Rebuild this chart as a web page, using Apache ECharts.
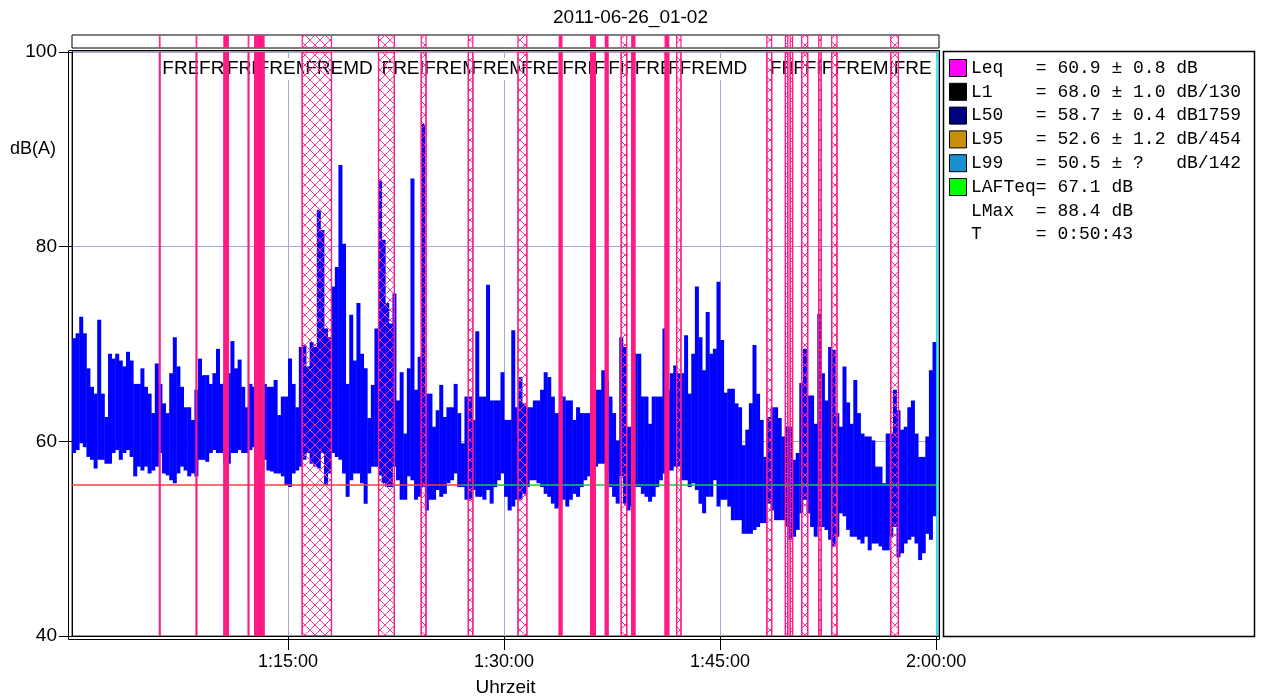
<!DOCTYPE html>
<html>
<head>
<meta charset="utf-8">
<script src="https://cdn.jsdelivr.net/npm/echarts@6/dist/echarts.min.js"></script>
<style>
html,body{margin:0;padding:0;background:#fff}
#main{width:1261px;height:698px}
</style>
</head>
<body>
<div id="main"></div>
<script>
// Pegelschrieb 2011-06-26 01-02, Spalten a 15 s (Zeit in s seit 0:00)
var LEVEL_START = 3600;
var LEVEL_STEP = 15;
var levelHigh = [
  70.6,71.1,72.8,71.1,67.5,65.6,64.9,72.5,64.9,62.5, 69.0,68.5,69.0,68.3,67.7,69.2,68.3,65.9,65.9,67.5,
  65.6,64.9,62.9,68.0,65.9,63.9,62.9,67.0,70.7,67.7, 65.6,63.5,63.5,62.2,65.3,68.5,66.8,66.8,65.9,67.0,
  69.5,65.9,65.6,67.0,70.3,67.5,68.4,65.6,63.5,65.9, 65.6,65.3,64.9,65.9,65.6,65.6,66.3,62.7,64.6,64.6,
  68.5,65.9,63.5,69.7,69.9,67.7,70.2,69.7,83.8,81.7, 71.6,70.7,75.9,77.9,88.4,80.3,65.9,73.0,68.3,74.2,
  69.0,67.5,62.4,65.8,71.6,86.8,80.7,74.2,72.1,75.2, 64.2,67.1,60.8,67.5,87.0,65.3,68.7,92.6,64.9,64.9,
  61.5,63.2,65.8,62.5,63.5,63.5,65.9,62.9,59.8,64.6, 64.6,62.2,71.3,64.6,64.6,76.1,64.2,64.2,64.2,67.1,
  62.2,62.2,71.4,63.5,66.6,63.9,63.5,63.5,64.2,64.2, 65.3,67.1,66.6,64.6,62.9,62.9,64.6,64.2,64.2,62.2,
  63.5,62.9,62.9,62.9,64.2,65.3,65.3,67.3,66.3,64.6, 62.9,60.1,70.7,69.7,61.5,61.5,69.0,69.0,64.6,64.6,
  61.8,64.6,64.6,64.6,71.6,65.3,67.0,67.8,67.0,67.0, 70.9,64.9,69.0,75.9,70.7,67.3,73.3,69.0,69.5,76.4,
  70.4,65.0,65.4,65.4,63.9,63.5,59.6,61.2,63.9,69.9, 64.9,62.2,58.4,62.5,63.5,63.5,62.4,60.5,61.5,61.5,
  58.1,58.8,66.0,69.5,64.7,64.7,61.8,73.1,67.0,64.2, 69.7,69.4,62.9,61.5,67.7,64.0,61.8,66.3,62.9,60.8,
  60.5,60.5,60.1,57.4,57.4,55.7,60.8,60.8,65.3,63.2, 61.2,61.5,63.5,64.2,60.8,58.4,58.4,60.5,67.3,70.2
];
var levelLow = [
  58.8,59.1,59.8,59.4,58.4,58.1,57.2,58.1,58.1,57.7, 57.7,58.8,59.1,58.1,58.8,59.1,58.4,56.4,57.4,57.0,
  57.4,56.7,57.0,57.4,58.8,56.7,56.5,56.0,55.7,56.7, 57.4,57.0,56.4,56.7,56.4,58.1,58.1,57.9,58.8,59.1,
  58.8,58.8,57.7,57.7,58.8,58.8,59.1,58.8,58.8,59.1, 59.4,58.8,58.1,58.1,57.0,56.9,56.7,56.7,56.4,55.5,
  55.3,56.7,57.0,57.4,58.1,58.8,57.7,57.4,57.2,58.8, 55.5,56.7,58.8,58.4,58.1,56.7,54.3,56.0,56.7,56.7,
  55.7,53.6,56.7,57.4,57.4,56.5,55.7,55.3,55.3,57.4, 56.0,54.0,54.0,56.4,56.0,54.0,54.3,55.3,52.9,54.0,
  54.0,55.0,54.3,54.6,55.7,56.0,56.7,55.3,55.3,54.0, 54.0,55.0,54.3,54.3,54.0,55.0,53.6,55.3,56.0,56.7,
  54.3,52.9,53.3,54.0,54.0,54.6,55.3,56.0,56.0,55.7, 55.3,54.6,54.3,53.6,53.1,53.3,54.0,53.3,54.0,54.6,
  54.3,55.3,56.0,56.4,57.4,57.4,57.7,57.7,56.7,55.3, 54.3,53.6,56.4,53.6,52.9,53.3,55.3,55.3,54.6,54.3,
  53.8,54.3,55.3,56.0,56.7,57.0,57.0,57.4,57.4,56.0, 56.0,55.3,55.7,55.0,53.6,52.6,54.3,54.3,56.0,53.3,
  54.0,54.0,53.3,51.9,51.9,51.9,50.5,50.5,50.5,50.9, 51.2,51.6,51.6,53.6,52.9,51.9,51.9,51.9,51.2,49.9,
  50.2,50.9,52.6,54.0,52.6,51.2,50.2,51.2,51.2,50.9, 49.9,49.2,50.2,52.6,52.3,50.9,50.2,50.2,49.9,49.5,
  50.2,48.8,49.5,49.5,49.2,48.8,48.8,50.2,51.2,48.1, 48.5,49.5,49.9,50.2,49.5,47.8,48.5,50.5,49.9,52.3
];

// Markierungen (Fremdgeraeusch): Beginn, Ende, Art (l = Linie, s = voll, h = schraffiert)
var markStart = [3964,4117,4233,4334,4361,4559,4877,5055,5251,5458,5630,5761,5822,5888,5932,6071,6119,6495,6572,6592,6640,6711,6765,7011];
var markEnd   = [3967,4120,4251,4337,4400,4681,4943,5075,5270,5495,5641,5780,5833,5911,5945,6086,6137,6515,6582,6602,6665,6721,6787,7043];
var markKind  = ['l','l','s','l','s','h','h','h','h','h','s','s','s','h','s','s','h','h','h','h','h','h','h','h'];
var markText = 'FREMD';

var tickTimes = [4500, 5400, 6300, 7200];
var refLevel = 55.5;
var refSwitch = 5220;
var dataEnd = 7203;
var axisMin = 3600, axisMax = 7212;

var legendColors = ['#ff00ff', '#000000', '#000080', '#c8900a', '#1a90d0', '#00ff00'];
var legendRows = [
  'Leq   = 60.9 ± 0.8 dB',
  'L1    = 68.0 ± 1.0 dB/130',
  'L50   = 58.7 ± 0.4 dB1759',
  'L95   = 52.6 ± 1.2 dB/454',
  'L99   = 50.5 ± ?   dB/142',
  'LAFTeq= 67.1 dB',
  'LMax  = 88.4 dB',
  'T     = 0:50:43'
];

var PINK = '#ff1a85';
var HATCH = '#ff3399';
var SANS = '"Liberation Sans", Arial, sans-serif';
var CLEAR = 'rgba(0,0,0,0)';

function pad(n) { return n < 10 ? '0' + n : '' + n; }
function hms(v) {
  return Math.floor(v / 3600) + ':' + pad(Math.floor(v % 3600 / 60)) + ':' + pad(v % 60);
}

// Kreuzschraffur (Raster 10 px) innerhalb eines Rechtecks
function hatchPath(x0, y0, x1, y1) {
  var step = 10, d = [], c, a, b;
  for (c = Math.floor((x0 - y1) / step) * step; c <= x1 - y0; c += step) {
    a = Math.max(x0, y0 + c); b = Math.min(x1, y1 + c);
    if (b > a) d.push('M' + a + ' ' + (a - c) + 'L' + b + ' ' + (b - c));
  }
  for (c = Math.floor((x0 + y0) / step) * step; c <= x1 + y1; c += step) {
    a = Math.max(x0, c - y1); b = Math.min(x1, c - y0);
    if (b > a) d.push('M' + a + ' ' + (c - a) + 'L' + b + ' ' + (c - b));
  }
  return d.join('');
}

// full = Schraffur + Rand, edge = nur Rand / volle Balken
function markRenderer(mode) {
  return function (params, api) {
    var cs = params.coordSys;
    var kind = markKind[params.dataIndex];
    var x0 = api.coord([api.value(0), 0])[0];
    var x1 = api.coord([api.value(1), 0])[0];
    var y0 = cs.y, y1 = cs.y + cs.height;
    var children = [];
    if (kind === 'h' && mode === 'full' && x1 - x0 > 2) {
      children.push({type: 'path', shape: {pathData: hatchPath(x0, y0, x1, y1)},
        style: {stroke: HATCH, lineWidth: 1, fill: null}});
    }
    children.push({type: 'rect', shape: {x: x0, y: y0, width: Math.max(x1 - x0, 0.5), height: y1 - y0},
      style: {fill: kind === 's' ? PINK : null, stroke: PINK, lineWidth: kind === 'l' ? 1 : 1.2}});
    return {type: 'group', children: children};
  };
}

var markData = markStart.map(function (s, i) { return [s, markEnd[i]]; });

function labelAreas(widthOf) {
  return markStart.map(function (s, i) {
    return [{
      xAxis: s,
      itemStyle: {color: CLEAR, borderWidth: 0},
      label: {
        show: true, position: 'insideTopLeft', distance: 0, offset: [2, 6],
        formatter: markText, color: '#000', fontSize: 19, fontFamily: SANS, lineHeight: 22,
        backgroundColor: '#fff', padding: [0, 0, 0, 1],
        width: widthOf ? widthOf(i) : 74, overflow: 'truncate', ellipsis: ''
      }
    }, {xAxis: markEnd[i]}];
  });
}

var levelData = levelHigh.map(function (h, i) {
  return [LEVEL_START + i * LEVEL_STEP, levelLow[i], h];
});

var chart = echarts.init(document.getElementById('main'));

var legendGraphics = [
  {type: 'rect', shape: {x: 943.5, y: 51.5, width: 311, height: 585}, style: {fill: 'none', stroke: '#000', lineWidth: 1.5}, silent: true}
];
legendRows.forEach(function (row, i) {
  var cy = 68 + i * 23.8;
  if (i < legendColors.length) {
    legendGraphics.push({type: 'rect', shape: {x: 949.5, y: cy - 8.5, width: 17, height: 17},
      style: {fill: legendColors[i], stroke: '#000', lineWidth: 1}, silent: true});
  }
  legendGraphics.push({type: 'text', x: 971, y: cy,
    style: {text: row, font: '18px "Liberation Mono", monospace', fill: '#000', verticalAlign: 'middle'}, silent: true});
});

function markSeries(id, xi, z, mode) {
  return {id: id, type: 'custom', xAxisIndex: xi, yAxisIndex: xi, z: z, silent: true, clip: true,
    encode: {x: [0, 1]}, data: markData, renderItem: markRenderer(mode)};
}

var option = {
  animation: false,
  backgroundColor: '#fff',
  title: {
    text: '2011-06-26_01-02', left: 'center', top: 8, padding: 0,
    textStyle: {fontSize: 19, fontWeight: 'normal', color: '#000', fontFamily: SANS}
  },
  grid: [
    {left: 72, right: 322, top: 52, bottom: 62, show: true, borderColor: '#333', borderWidth: 1, backgroundColor: '#fff', outerBoundsMode: 'none'},
    {left: 72, right: 322, top: 35, height: 13, show: true, borderColor: '#000', borderWidth: 1, backgroundColor: '#fff', outerBoundsMode: 'none'}
  ],
  xAxis: [
    {
      type: 'value', gridIndex: 0, min: axisMin, max: axisMax, interval: 900,
      axisLine: {show: true, lineStyle: {color: '#000', width: 1}},
      axisTick: {show: true, length: 14, lineStyle: {color: '#000'}, customValues: tickTimes},
      axisLabel: {color: '#000', fontSize: 18, fontFamily: SANS, margin: 17, formatter: hms, customValues: tickTimes},
      splitLine: {show: true, lineStyle: {color: '#a8a8d8', width: 1}},
      name: 'Uhrzeit', nameLocation: 'middle', nameGap: 42,
      nameTextStyle: {color: '#000', fontSize: 19, fontFamily: SANS}
    },
    {
      type: 'value', gridIndex: 1, min: axisMin, max: axisMax,
      axisLine: {show: false}, axisTick: {show: false}, axisLabel: {show: false}, splitLine: {show: false}
    }
  ],
  yAxis: [
    {
      type: 'value', gridIndex: 0, min: 40, max: 100, interval: 20,
      axisLine: {show: true, lineStyle: {color: '#000', width: 1}},
      axisTick: {show: true, length: 13, lineStyle: {color: '#000'}},
      axisLabel: {color: '#000', fontSize: 19, fontFamily: SANS, margin: 15},
      splitLine: {show: true, lineStyle: {color: '#a8a8d8', width: 1}}
    },
    {
      type: 'value', gridIndex: 1, min: 0, max: 1,
      axisLine: {show: false}, axisTick: {show: false}, axisLabel: {show: false}, splitLine: {show: false}
    }
  ],
  series: [
    {
      id: 'levels', type: 'custom', xAxisIndex: 0, yAxisIndex: 0, z: 2, clip: true,
      encode: {x: 0, y: [1, 2]},
      data: levelData,
      renderItem: function (params, api) {
        var a = api.coord([api.value(0), api.value(2)]);
        var b = api.coord([api.value(0) + LEVEL_STEP, api.value(1)]);
        return {type: 'rect', shape: {x: a[0], y: a[1], width: b[0] - a[0] + 0.4, height: b[1] - a[1]},
          style: {fill: '#0000ff'}};
      }
    },
    markSeries('marks', 0, 3, 'full'),
    {
      id: 'refs', type: 'line', xAxisIndex: 0, yAxisIndex: 0, z: 3,
      data: [[axisMin, 40]], symbol: 'none', lineStyle: {opacity: 0}, silent: true,
      markLine: {
        silent: true, symbol: 'none', label: {show: false},
        data: [
          [{coord: [axisMin, refLevel], lineStyle: {color: '#ff3b3b', width: 1.5, type: 'solid'}}, {coord: [refSwitch, refLevel]}],
          [{coord: [refSwitch, refLevel], lineStyle: {color: '#18c83c', width: 1.5, type: 'solid'}}, {coord: [axisMax, refLevel]}],
          {xAxis: dataEnd, lineStyle: {color: '#00e8ff', width: 1.5, type: 'solid'}}
        ]
      }
    },
    {
      id: 'labels', type: 'line', xAxisIndex: 0, yAxisIndex: 0, z: 4,
      data: [[axisMin, 40]], symbol: 'none', lineStyle: {opacity: 0}, silent: true,
      markArea: {silent: true, data: labelAreas()}
    },
    markSeries('edges', 0, 5, 'edge'),
    markSeries('strip', 1, 3, 'full')
  ],
  graphic: [
    {type: 'rect', shape: {x: 68.5, y: 50.5, width: 871, height: 589}, style: {fill: 'none', stroke: '#000', lineWidth: 1}, silent: true, z: 10},
    {type: 'text', left: 10, top: 140, style: {text: 'dB(A)', font: '18px ' + SANS, fill: '#000'}, silent: true}
  ].concat(legendGraphics)
};

chart.setOption(option);

// Beschriftung: volle Breite, am Diagrammrand abgeschnitten; spaetere ueberdecken fruehere
function labelWidth(i) {
  var w = chart.convertToPixel({xAxisIndex: 0}, axisMax) - chart.convertToPixel({xAxisIndex: 0}, markStart[i]) - 4;
  return Math.max(Math.min(w, 74), 1);
}
chart.setOption({series: [{id: 'labels', markArea: {silent: true, data: labelAreas(labelWidth)}}]});
</script>
</body>
</html>
